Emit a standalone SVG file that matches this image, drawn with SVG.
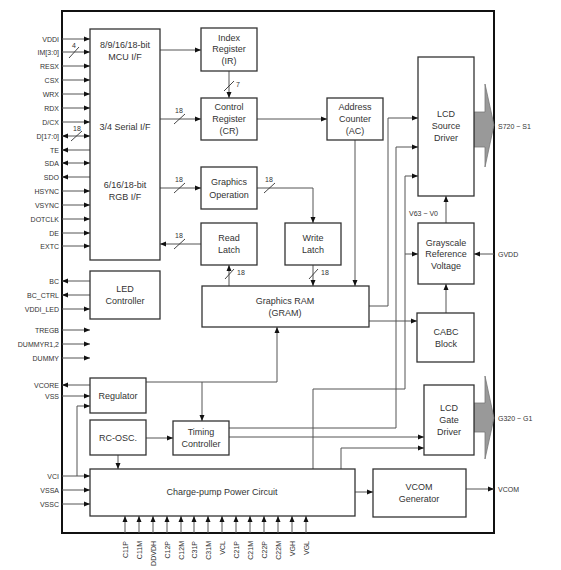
<svg xmlns="http://www.w3.org/2000/svg" width="561" height="570" viewBox="0 0 561 570">
<style>
.bx{fill:#fff;stroke:#333;stroke-width:1.3}
.ln{fill:none;stroke:#555;stroke-width:1}
.ar{marker-end:url(#a)}
.al{marker-start:url(#b)}
.t{font-family:"Liberation Sans",Arial,sans-serif;font-size:9px;fill:#333;text-anchor:middle}
.p{font-family:"Liberation Sans",Arial,sans-serif;font-size:7px;fill:#333;text-anchor:end}
.s{font-family:"Liberation Sans",Arial,sans-serif;font-size:7px;fill:#333}
.sl{stroke:#333;stroke-width:0.9}
</style>
<defs>
<marker id="a" markerWidth="6" markerHeight="6" refX="6" refY="3" orient="auto" markerUnits="userSpaceOnUse"><path d="M0,0.5 L6,3 L0,5.5 z" fill="#111"/></marker>
<marker id="b" markerWidth="6" markerHeight="6" refX="6" refY="3" orient="auto-start-reverse" markerUnits="userSpaceOnUse"><path d="M0,0.5 L6,3 L0,5.5 z" fill="#111"/></marker>
</defs>
<rect x="0" y="0" width="561" height="570" fill="#fff"/>
<rect x="62" y="11" width="432" height="522" fill="none" stroke="#111" stroke-width="2"/>

<g id="connectors">
<!-- left pins -->
<g class="ln">
<path class="ar" d="M62,39H90"/>
<path class="ar" d="M62,52H90"/>
<path class="ar" d="M62,66H90"/>
<path class="ar" d="M62,80H90"/>
<path class="ar" d="M62,94H90"/>
<path class="ar" d="M62,108H90"/>
<path class="ar" d="M62,122H90"/>
<path class="ar al" d="M62,136H90"/>
<path class="al" d="M62,150H90"/>
<path class="ar al" d="M62,163H90"/>
<path class="al" d="M62,177H90"/>
<path class="ar" d="M62,191H90"/>
<path class="ar" d="M62,205H90"/>
<path class="ar" d="M62,219H90"/>
<path class="ar" d="M62,233H90"/>
<path class="ar" d="M62,246H90"/>
<path class="al" d="M62,281H90"/>
<path class="al" d="M62,295H90"/>
<path class="ar" d="M62,309H90"/>
<path class="ar" d="M62,330H90"/>
<path class="ar" d="M62,344H90"/>
<path class="ar" d="M62,358H90"/>
<path class="al" d="M62,385H90"/>
<path class="ar" d="M62,396H90"/>
<path class="ar" d="M77,476V406H90"/>
<path class="ar" d="M62,476H90"/>
<path class="ar" d="M62,490H90"/>
<path class="ar" d="M62,504H90"/>
<!-- bottom pins -->
<path class="ar" d="M125,533V516"/>
<path class="ar" d="M139,533V516"/>
<path class="ar" d="M153,533V516"/>
<path class="ar" d="M167,533V516"/>
<path class="ar" d="M181,533V516"/>
<path class="ar" d="M194,533V516"/>
<path class="ar" d="M208,533V516"/>
<path class="ar" d="M222,533V516"/>
<path class="ar" d="M236,533V516"/>
<path class="ar" d="M250,533V516"/>
<path class="ar" d="M264,533V516"/>
<path class="ar" d="M278,533V516"/>
<path class="ar" d="M292,533V516"/>
<path class="ar" d="M306,533V516"/>
<!-- internal -->
<path class="ar" d="M160,50H201"/>
<path class="ar" d="M229,71V98"/>
<path class="ar" d="M160,119H201"/>
<path class="ar" d="M257,119H327"/>
<path class="ar" d="M355,140V286"/>
<path class="ar" d="M160,188H201"/>
<path class="ar" d="M257,188H313V223"/>
<path class="ar" d="M201,244H160"/>
<path class="ar" d="M229,286V265"/>
<path class="ar" d="M313,265V286"/>
<path class="ar" d="M369,306H388V118H418"/>
<path class="ar" d="M369,321H417"/>
<path class="ar" d="M396,428V147H418"/>
<path class="ar" d="M405,389V176H418"/>
<path class="ar" d="M405,254H418"/>
<path class="ar" d="M446,223V196"/>
<path class="ar" d="M446,313V284"/>
<path class="ar" d="M494,254H474"/>
<path class="ar" d="M146,382H277V327"/>
<path class="ar" d="M202,382V421"/>
<path class="ar" d="M146,438H173"/>
<path class="ar" d="M118,455V469"/>
<path d="M229,428H396"/>
<path class="ar" d="M229,437H424"/>
<path class="ar" d="M341,469V448H424"/>
<path d="M313,469V389H405"/>
<path class="ar" d="M355,492H373"/>
<path class="ar" d="M466,489H494"/>
</g>
<!-- bus slashes -->
<g class="sl">
<path d="M69,58L79,47"/>
<path d="M71,141L82,131"/>
<path d="M174,124L185,114"/>
<path d="M174,193L185,183"/>
<path d="M174,249L185,239"/>
<path d="M224,91L234,81"/>
<path d="M264,193L275,183"/>
<path d="M225,279L234,269"/>
<path d="M309,279L318,269"/>
</g>
<g class="s">
<text x="72" y="48">4</text>
<text x="73" y="131">18</text>
<text x="175" y="113">18</text>
<text x="175" y="182">18</text>
<text x="175" y="238">18</text>
<text x="236" y="87">7</text>
<text x="265" y="182">18</text>
<text x="237" y="275">18</text>
<text x="321" y="275">18</text>
</g>
<!-- big output arrows -->
<path d="M474,112H485V84L494,125L485,167V147H474z" fill="#999" stroke="#777" stroke-width="0.8"/>
<path d="M474,403H485V376L494,418L485,459V432H474z" fill="#999" stroke="#777" stroke-width="0.8"/>
</g>

<g id="pin-labels" class="p">
<text x="59" y="41.5">VDDI</text>
<text x="59" y="54.5">IM[3:0]</text>
<text x="59" y="68.5">RESX</text>
<text x="59" y="82.5">CSX</text>
<text x="59" y="96.5">WRX</text>
<text x="59" y="110.5">RDX</text>
<text x="59" y="124.5">D/CX</text>
<text x="59" y="138.5">D[17:0]</text>
<text x="59" y="152.5">TE</text>
<text x="59" y="165.5">SDA</text>
<text x="59" y="179.5">SDO</text>
<text x="59" y="193.5">HSYNC</text>
<text x="59" y="207.5">VSYNC</text>
<text x="59" y="221.5">DOTCLK</text>
<text x="59" y="235.5">DE</text>
<text x="59" y="248.5">EXTC</text>
<text x="59" y="283.5">BC</text>
<text x="59" y="297.5">BC_CTRL</text>
<text x="59" y="311.5">VDDI_LED</text>
<text x="59" y="332.5">TREGB</text>
<text x="59" y="346.5">DUMMYR1,2</text>
<text x="59" y="360.5">DUMMY</text>
<text x="59" y="387.5">VCORE</text>
<text x="59" y="398.5">VSS</text>
<text x="59" y="478.5">VCI</text>
<text x="59" y="492.5">VSSA</text>
<text x="59" y="506.5">VSSC</text>
</g>
<g id="bottom-labels" class="p">
<text transform="translate(127.5,541) rotate(-90)">C11P</text>
<text transform="translate(141.5,541) rotate(-90)">C11M</text>
<text transform="translate(155.5,541) rotate(-90)">DDVDH</text>
<text transform="translate(169.5,541) rotate(-90)">C12P</text>
<text transform="translate(183.5,541) rotate(-90)">C12M</text>
<text transform="translate(196.5,541) rotate(-90)">C31P</text>
<text transform="translate(210.5,541) rotate(-90)">C31M</text>
<text transform="translate(224.5,541) rotate(-90)">VCL</text>
<text transform="translate(238.5,541) rotate(-90)">C21P</text>
<text transform="translate(252.5,541) rotate(-90)">C21M</text>
<text transform="translate(266.5,541) rotate(-90)">C22P</text>
<text transform="translate(280.5,541) rotate(-90)">C22M</text>
<text transform="translate(294.5,541) rotate(-90)">VGH</text>
<text transform="translate(308.5,541) rotate(-90)">VGL</text>
</g>
<g id="right-labels" class="s">
<text x="498" y="128.5">S720 ~ S1</text>
<text x="498" y="256.5">GVDD</text>
<text x="498" y="420.5">G320 ~ G1</text>
<text x="498" y="491.5">VCOM</text>
<text x="409" y="215.5">V63 ~ V0</text>
</g>

<g id="mcu-if">
<rect class="bx" x="90" y="29" width="70" height="231"/>
<text class="t" x="125" y="48">8/9/16/18-bit</text>
<text class="t" x="125" y="60">MCU I/F</text>
<text class="t" x="125" y="130">3/4 Serial I/F</text>
<text class="t" x="125" y="188">6/16/18-bit</text>
<text class="t" x="125" y="200">RGB I/F</text>
</g>
<g id="led-controller">
<rect class="bx" x="90" y="271" width="70" height="48"/>
<text class="t" x="125" y="292">LED</text>
<text class="t" x="125" y="304">Controller</text>
</g>
<g id="regulator">
<rect class="bx" x="90" y="378" width="56" height="35"/>
<text class="t" x="118" y="399">Regulator</text>
</g>
<g id="rc-osc">
<rect class="bx" x="90" y="420" width="56" height="35"/>
<text class="t" x="118" y="441">RC-OSC.</text>
</g>
<g id="charge-pump">
<rect class="bx" x="90" y="469" width="265" height="47"/>
<text class="t" x="222" y="495">Charge-pump Power Circuit</text>
</g>
<g id="index-register">
<rect class="bx" x="201" y="28" width="56" height="43"/>
<text class="t" x="229" y="41">Index</text>
<text class="t" x="229" y="52">Register</text>
<text class="t" x="229" y="64">(IR)</text>
</g>
<g id="control-register">
<rect class="bx" x="201" y="98" width="56" height="42"/>
<text class="t" x="229" y="110">Control</text>
<text class="t" x="229" y="122">Register</text>
<text class="t" x="229" y="134">(CR)</text>
</g>
<g id="address-counter">
<rect class="bx" x="327" y="98" width="56" height="42"/>
<text class="t" x="355" y="110">Address</text>
<text class="t" x="355" y="122">Counter</text>
<text class="t" x="355" y="134">(AC)</text>
</g>
<g id="graphics-operation">
<rect class="bx" x="201" y="167" width="56" height="42"/>
<text class="t" x="229" y="185">Graphics</text>
<text class="t" x="229" y="198">Operation</text>
</g>
<g id="read-latch">
<rect class="bx" x="201" y="223" width="56" height="42"/>
<text class="t" x="229" y="241">Read</text>
<text class="t" x="229" y="253">Latch</text>
</g>
<g id="write-latch">
<rect class="bx" x="285" y="223" width="56" height="42"/>
<text class="t" x="313" y="241">Write</text>
<text class="t" x="313" y="253">Latch</text>
</g>
<g id="gram">
<rect class="bx" x="202" y="286" width="167" height="41"/>
<text class="t" x="285" y="304">Graphics RAM</text>
<text class="t" x="285" y="316">(GRAM)</text>
</g>
<g id="timing-controller">
<rect class="bx" x="173" y="421" width="56" height="34"/>
<text class="t" x="201" y="435">Timing</text>
<text class="t" x="201" y="447">Controller</text>
</g>
<g id="lcd-source-driver">
<rect class="bx" x="418" y="57" width="56" height="139"/>
<text class="t" x="446" y="117">LCD</text>
<text class="t" x="446" y="129">Source</text>
<text class="t" x="446" y="141">Driver</text>
</g>
<g id="grayscale">
<rect class="bx" x="418" y="223" width="56" height="61"/>
<text class="t" x="446" y="246">Grayscale</text>
<text class="t" x="446" y="257">Reference</text>
<text class="t" x="446" y="269">Voltage</text>
</g>
<g id="cabc">
<rect class="bx" x="417" y="313" width="57" height="49"/>
<text class="t" x="446" y="335">CABC</text>
<text class="t" x="446" y="347">Block</text>
</g>
<g id="lcd-gate-driver">
<rect class="bx" x="424" y="385" width="50" height="70"/>
<text class="t" x="449" y="411">LCD</text>
<text class="t" x="449" y="423">Gate</text>
<text class="t" x="449" y="435">Driver</text>
</g>
<g id="vcom-generator">
<rect class="bx" x="373" y="469" width="93" height="48"/>
<text class="t" x="419" y="490">VCOM</text>
<text class="t" x="419" y="502">Generator</text>
</g>
</svg>
